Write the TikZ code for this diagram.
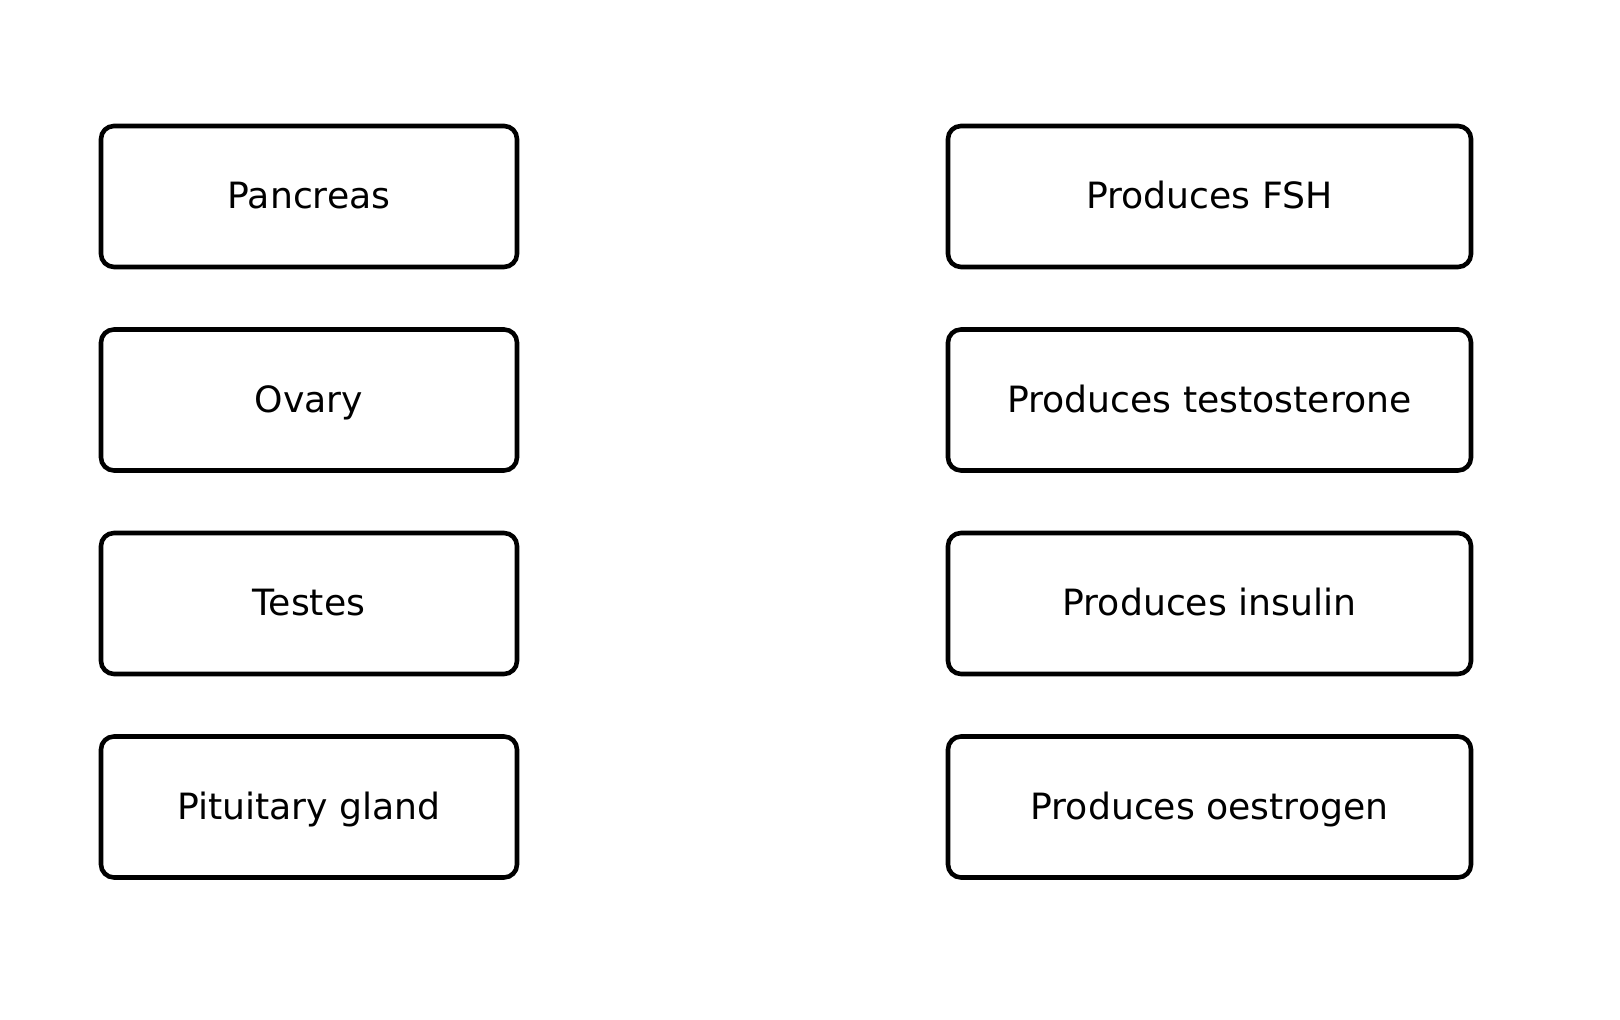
\documentclass[tikz,border=0pt]{standalone}
\usepackage{fontspec}
\setmainfont{DejaVu Sans}
\usetikzlibrary{positioning}

\begin{document}
\begin{tikzpicture}
  % Define styles for the boxes
  \tikzset{
    organ/.style={
      draw,
      rectangle,
      rounded corners=0.13cm,
      line width=1.3pt,
      minimum width=4.16cm,
      minimum height=1.41cm,
      inner sep=0pt,
      text height=0.85em,
      text depth=0.15em,
      font=\fontsize{10.3}{12}\selectfont
    },
    role/.style={
      organ,
      minimum width=5.23cm
    }
  }

  \useasboundingbox (0,0) rectangle (16.2,10.2);

  % Left column: glands
  \node[organ] (g1) at (3.09,8.235) {Pancreas};
  \node[organ] (g2) at (3.09,6.2) {Ovary};
  \node[organ] (g3) at (3.09,4.165) {Testes};
  \node[organ] (g4) at (3.09,2.13) {Pituitary gland};

  % Right column: what they produce
  \node[role] (h1) at (12.095,8.235) {Produces FSH};
  \node[role] (h2) at (12.095,6.2) {Produces testosterone};
  \node[role] (h3) at (12.095,4.165) {Produces insulin};
  \node[role] (h4) at (12.095,2.13) {Produces oestrogen};
\end{tikzpicture}
\end{document}
